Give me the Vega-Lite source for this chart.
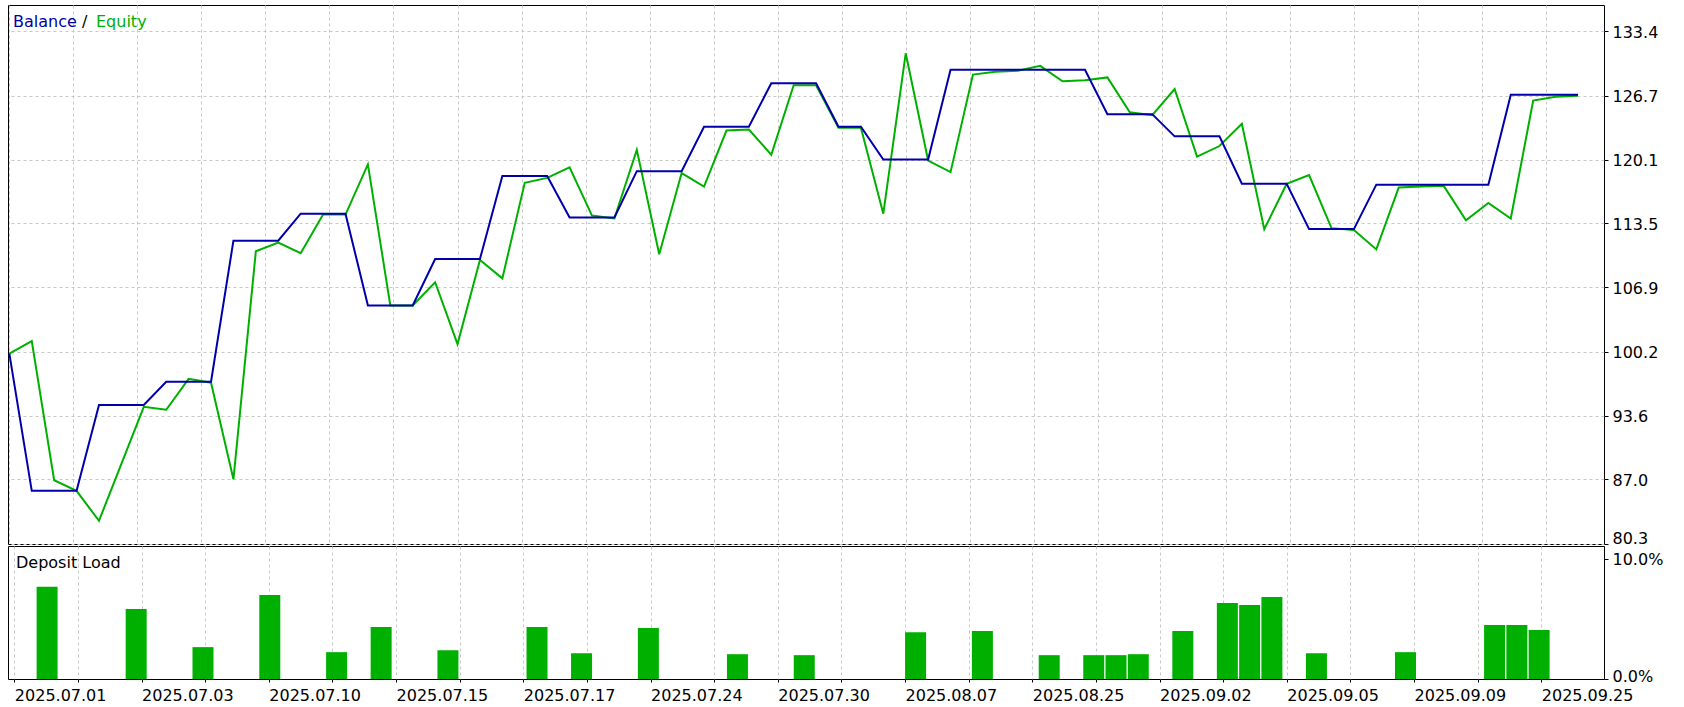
{
  "$schema": "https://vega.github.io/schema/vega-lite/v6.json",
  "background": "white",
  "padding": {"left": 4, "top": 4, "right": 0, "bottom": 0},
  "bounds": "flush",
  "spacing": 2,
  "config": {
    "font": "DejaVu Sans",
    "view": {"stroke": "#000000", "strokeWidth": 1},
    "axis": {
      "labelFont": "DejaVu Sans",
      "labelFontSize": 16,
      "labelColor": "#000000",
      "tickColor": "#000000",
      "gridColor": "#c8c8c8",
      "gridDash": [3, 3],
      "gridWidth": 1,
      "domain": false,
      "title": null
    }
  },
  "datasets": {
    "curve": [
      {"i": 0, "balance": 100.0, "equity": 100.0},
      {"i": 1, "balance": 85.8, "equity": 101.3},
      {"i": 2, "balance": 85.8, "equity": 86.9},
      {"i": 3, "balance": 85.8, "equity": 85.8},
      {"i": 4, "balance": 94.7, "equity": 82.7},
      {"i": 5, "balance": 94.7, "equity": 88.6},
      {"i": 6, "balance": 94.7, "equity": 94.5},
      {"i": 7, "balance": 97.1, "equity": 94.2},
      {"i": 8, "balance": 97.1, "equity": 97.4},
      {"i": 9, "balance": 97.1, "equity": 97.0},
      {"i": 10, "balance": 111.7, "equity": 87.0},
      {"i": 11, "balance": 111.7, "equity": 110.6},
      {"i": 12, "balance": 111.7, "equity": 111.5},
      {"i": 13, "balance": 114.5, "equity": 110.4},
      {"i": 14, "balance": 114.5, "equity": 114.4},
      {"i": 15, "balance": 114.5, "equity": 114.4},
      {"i": 16, "balance": 105.0, "equity": 119.6},
      {"i": 17, "balance": 105.0, "equity": 105.0},
      {"i": 18, "balance": 105.0, "equity": 105.0},
      {"i": 19, "balance": 109.8, "equity": 107.4},
      {"i": 20, "balance": 109.8, "equity": 101.0},
      {"i": 21, "balance": 109.8, "equity": 109.7},
      {"i": 22, "balance": 118.4, "equity": 107.8},
      {"i": 23, "balance": 118.4, "equity": 117.7},
      {"i": 24, "balance": 118.4, "equity": 118.2},
      {"i": 25, "balance": 114.1, "equity": 119.3},
      {"i": 26, "balance": 114.1, "equity": 114.3},
      {"i": 27, "balance": 114.1, "equity": 114.0},
      {"i": 28, "balance": 118.9, "equity": 121.1},
      {"i": 29, "balance": 118.9, "equity": 110.3},
      {"i": 30, "balance": 118.9, "equity": 118.7},
      {"i": 31, "balance": 123.5, "equity": 117.3},
      {"i": 32, "balance": 123.5, "equity": 123.1},
      {"i": 33, "balance": 123.5, "equity": 123.2},
      {"i": 34, "balance": 128.0, "equity": 120.6},
      {"i": 35, "balance": 128.0, "equity": 127.8},
      {"i": 36, "balance": 128.0, "equity": 127.8},
      {"i": 37, "balance": 123.5, "equity": 123.4},
      {"i": 38, "balance": 123.5, "equity": 123.4},
      {"i": 39, "balance": 120.1, "equity": 114.5},
      {"i": 40, "balance": 120.1, "equity": 131.1},
      {"i": 41, "balance": 120.1, "equity": 120.0},
      {"i": 42, "balance": 129.4, "equity": 118.8},
      {"i": 43, "balance": 129.4, "equity": 128.9},
      {"i": 44, "balance": 129.4, "equity": 129.2},
      {"i": 45, "balance": 129.4, "equity": 129.3},
      {"i": 46, "balance": 129.4, "equity": 129.8},
      {"i": 47, "balance": 129.4, "equity": 128.2},
      {"i": 48, "balance": 129.4, "equity": 128.3},
      {"i": 49, "balance": 124.8, "equity": 128.6},
      {"i": 50, "balance": 124.8, "equity": 125.0},
      {"i": 51, "balance": 124.8, "equity": 124.7},
      {"i": 52, "balance": 122.5, "equity": 127.4},
      {"i": 53, "balance": 122.5, "equity": 120.4},
      {"i": 54, "balance": 122.5, "equity": 121.5},
      {"i": 55, "balance": 117.6, "equity": 123.8},
      {"i": 56, "balance": 117.6, "equity": 112.9},
      {"i": 57, "balance": 117.6, "equity": 117.6},
      {"i": 58, "balance": 112.9, "equity": 118.5},
      {"i": 59, "balance": 112.9, "equity": 113.0},
      {"i": 60, "balance": 112.9, "equity": 112.8},
      {"i": 61, "balance": 117.5, "equity": 110.8},
      {"i": 62, "balance": 117.5, "equity": 117.2},
      {"i": 63, "balance": 117.5, "equity": 117.3},
      {"i": 64, "balance": 117.5, "equity": 117.4},
      {"i": 65, "balance": 117.5, "equity": 113.8},
      {"i": 66, "balance": 117.5, "equity": 115.6},
      {"i": 67, "balance": 126.8, "equity": 114.0},
      {"i": 68, "balance": 126.8, "equity": 126.2},
      {"i": 69, "balance": 126.8, "equity": 126.6},
      {"i": 70, "balance": 126.8, "equity": 126.7}
    ],
    "load": [
      {"i": 1, "load": 7.69},
      {"i": 5, "load": 5.84},
      {"i": 8, "load": 2.66},
      {"i": 11, "load": 7.02},
      {"i": 14, "load": 2.24},
      {"i": 16, "load": 4.33},
      {"i": 19, "load": 2.40},
      {"i": 23, "load": 4.33},
      {"i": 25, "load": 2.15},
      {"i": 28, "load": 4.25},
      {"i": 32, "load": 2.07},
      {"i": 35, "load": 1.99},
      {"i": 40, "load": 3.91},
      {"i": 43, "load": 4.0},
      {"i": 46, "load": 1.99},
      {"i": 48, "load": 1.99},
      {"i": 49, "load": 1.99},
      {"i": 50, "load": 2.07},
      {"i": 52, "load": 4.0},
      {"i": 54, "load": 6.35},
      {"i": 55, "load": 6.18},
      {"i": 56, "load": 6.85},
      {"i": 58, "load": 2.15},
      {"i": 62, "load": 2.24},
      {"i": 66, "load": 4.5},
      {"i": 67, "load": 4.5},
      {"i": 68, "load": 4.08}
    ]
  },
  "resolve": {"scale": {"x": "independent", "color": "independent"}, "axis": {"x": "independent"}},
  "vconcat": [
    {
      "width": 1596,
      "height": 539,
      "data": {"name": "curve"},
      "encoding": {
        "x": {
          "field": "i",
          "type": "quantitative",
          "scale": {"domain": [-0.06, 71.16], "nice": false, "zero": false},
          "axis": {
            "values": [0, 2.857, 5.714, 8.571, 11.428, 14.285, 17.142, 19.999, 22.856, 25.713, 28.57, 31.427, 34.284, 37.141, 39.998, 42.855, 45.712, 48.569, 51.426, 54.283, 57.14, 59.997, 62.854, 65.711, 68.568],
            "labels": false,
            "ticks": false,
            "grid": true
          }
        }
      },
      "layer": [
        {
          "mark": {"type": "line", "strokeWidth": 2, "interpolate": "linear"},
          "encoding": {
            "y": {
              "field": "equity",
              "type": "quantitative",
              "scale": {"domain": [80.3, 136.1], "nice": false, "zero": false},
              "axis": {
                "orient": "right",
                "values": [80.3, 87.0, 93.6, 100.2, 106.9, 113.5, 120.1, 126.7, 133.4],
                "format": ".1f",
                "tickSize": 4,
                "labelPadding": 4,
                "labelOffset": {"condition": {"test": "datum.value < 81", "value": -6}, "value": 1},
                "grid": true
              }
            },
            "color": {
              "datum": "Equity",
              "type": "nominal",
              "scale": {"domain": ["Balance", "/", "Equity"], "range": ["#0000aa", "#000000", "#00b000"]},
              "legend": {
                "orient": "none",
                "legendX": 6,
                "legendY": 9,
                "direction": "horizontal",
                "title": null,
                "symbolSize": 0,
                "symbolOpacity": 0,
                "symbolStrokeWidth": 0,
                "labelFont": "DejaVu Sans",
                "labelFontSize": 16,
                "labelOffset": -17,
                "columnPadding": 5,
                "padding": 0,
                "labelColor": {"expr": "datum.value == 'Balance' ? '#0000aa' : datum.value == 'Equity' ? '#00b000' : '#000000'"}
              }
            }
          }
        },
        {
          "mark": {"type": "line", "strokeWidth": 2, "interpolate": "linear"},
          "encoding": {
            "y": {"field": "balance", "type": "quantitative"},
            "color": {"datum": "Balance", "type": "nominal"}
          }
        }
      ]
    },
    {
      "width": 1596,
      "height": 133,
      "data": {"name": "load"},
      "title": {
        "text": "Deposit Load",
        "anchor": "start",
        "orient": "top",
        "offset": -25,
        "dx": 8,
        "baseline": "top",
        "font": "DejaVu Sans",
        "fontSize": 16,
        "fontWeight": "normal",
        "color": "#000000"
      },
      "mark": {"type": "bar", "width": 21, "xOffset": 10.5, "color": "#00b000"},
      "encoding": {
        "x": {
          "field": "i",
          "type": "quantitative",
          "scale": {"domain": [-0.06, 71.16], "nice": false, "zero": false},
          "axis": {
            "values": [0, 2.857, 5.714, 8.571, 11.428, 14.285, 17.142, 19.999, 22.856, 25.713, 28.57, 31.427, 34.284, 37.141, 39.998, 42.855, 45.712, 48.569, 51.426, 54.283, 57.14, 59.997, 62.854, 65.711, 68.568],
            "labelExpr": "round(datum.value / 2.857) % 2 == 0 ? ['2025.07.01','2025.07.03','2025.07.10','2025.07.15','2025.07.17','2025.07.24','2025.07.30','2025.08.07','2025.08.25','2025.09.02','2025.09.05','2025.09.09','2025.09.25'][round(datum.value / 5.714)] : ''",
            "labelAlign": "left",
            "labelOverlap": false,
            "labelBound": false,
            "labelFlush": false,
            "tickSize": 3,
            "labelPadding": 5,
            "grid": true
          }
        },
        "y": {
          "field": "load",
          "type": "quantitative",
          "scale": {"domain": [0, 11.1], "nice": false},
          "axis": {
            "orient": "right",
            "values": [0, 10],
            "labelExpr": "format(datum.value, '.1f') + '%'",
            "labelOffset": {"condition": {"test": "datum.value < 1", "value": -3}, "value": 0},
            "tickSize": 4,
            "labelPadding": 4,
            "grid": false
          }
        }
      }
    }
  ]
}
